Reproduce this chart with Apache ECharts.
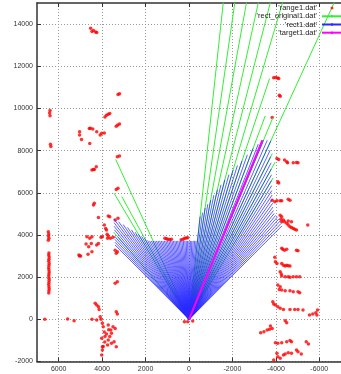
<!DOCTYPE html>
<html>
<head>
<meta charset="utf-8">
<script src="https://cdn.jsdelivr.net/npm/echarts@6/dist/echarts.min.js"></script>
<style>
  html, body { margin: 0; padding: 0; background: #fff; }
  #chart { width: 341px; height: 374px; }
</style>
</head>
<body>
<div id="chart"></div>
<script>
// scan rays: angle in degrees from +y, positive towards +x
const scanAngle = [
  44, 43, 42, 41, 40, 39, 38, 37, 36, 35,
  34, 33, 32, 31, 30, 29, 28, 27, 26, 25,
  24, 23, 22, 21, 20, 19, 18, 17, 16, 15,
  14, 13, 12, 11, 10, 9, 8, 7, 6, 5,
  4, 3, 2, 1, 0, -1, -2, -3, -4, -5,
  -6, -7, -8, -9, -10, -11, -12, -13, -14, -15,
  -16, -17, -18, -19, -20, -21, -22, -23, -24, -25,
  -26, -27, -28, -29, -30, -31, -32, -33, -34, -35,
  -36, -37, -38, -39, -40, -41, -42, -43, -44];
const rectRange = [
  4900, 5000, 5110, 5230, 5080, 5470, 5600, 5740, 5890, 5650,
  5420, 5200, 5000, 4820, 4660, 4500, 4360, 4200, 4140, 4105,
  4070, 4040, 4010, 3985, 3960, 3935, 3910, 3890, 3870, 3850,
  3830, 3820, 3800, 3790, 3780, 3765, 3760, 3750, 3740, 3735,
  3730, 3725, 3720, 3720, 3720, 3720, 3720, 3725, 3730, 3735,
  4900, 5100, 5330, 5530, 5740, 6000, 6280, 6550, 6820, 7100,
  7360, 7630, 7900, 8250, 8620, 8900, 9150, 9220, 9270, 8850,
  8580, 8330, 8070, 7840, 7600, 7400, 7200, 7030, 6870, 6720,
  6580, 6460, 6370, 6340, 6350, 6310, 6280, 6220, 6160];

// original rays that stick out past the clipped ones
const origAngle = [40, 30, 28, 24, -6, -8, -10, -12, -14, -16, -18, -20, -22, -24, -26, -28, -30];
const origRange = [5400, 6900, 6600, 8300, 17000, 17000, 17000, 17000, 17000, 17000, 12000, 10260, 10300, 18000, 8750, 8450, 7750];

const targetPath = [[0, 0], [-3380, 8500]];

const rangePoints = [
  // far left wall
  [6400, 9900], [6420, 9780], [6400, 9650], [6380, 8300], [6360, 8200],
  [6480, 4150], [6460, 4050], [6470, 3950], [6450, 3850], [6480, 3750],
  [6450, 3150], [6460, 3050], [6440, 2950], [6450, 2850], [6460, 2750], [6440, 2650], [6450, 2550],
  [6460, 2450], [6450, 2350], [6440, 2250], [6450, 2150], [6460, 2050], [6450, 1950], [6440, 1850],
  [6450, 1750], [6460, 1650], [6450, 1550], [6440, 1450], [6450, 1350], [6460, 1250],
  [6640, 0], [5590, 20], [5290, -70], [4470, 0], [4250, -30],
  // left side
  [4530, 13800], [4470, 13650], [4400, 13700], [4300, 13620], [4250, 13600],
  [3270, 10660], [3200, 10700],
  [3870, 9600], [3800, 9680], [3720, 9730], [3650, 9760],
  [4590, 9050], [4540, 9060], [4430, 9020],
  [3350, 9160], [3280, 9210], [3200, 9260],
  [5040, 8890], [5040, 8740], [4950, 8530],
  [4250, 8890], [4090, 8740], [4020, 8820], [3900, 8840],
  [4570, 8340],
  [4470, 7080], [4400, 7100], [4360, 7110], [4270, 7230],
  [3300, 7710], [3200, 7740],
  [3350, 6160], [3270, 6210],
  [4400, 5420], [4360, 5500],
  [4170, 4830],
  [3720, 4900], [3650, 4860],
  [3400, 4710], [3270, 4790],
  [3900, 4470], [3840, 4310], [3800, 4230], [3770, 4040], [3750, 3840],
  [4700, 3920], [4570, 3840], [4470, 3920], [4500, 3600], [4620, 3440], [4470, 3200], [4650, 3080],
  [5040, 3000], [4740, 3570], [5070, 3050], [4990, 3000],
  [4250, 3520], [4170, 3600], [4050, 3890], [3990, 3920],
  [3720, 3950], [3620, 3840], [3500, 3890],
  [3400, 3280], [3300, 3200], [3350, 3130],
  [3400, 1710], [3300, 1780],
  [4320, 760], [4250, 680], [4170, 600], [4140, 470],
  [3350, 360], [3300, 250],
  [4090, 120], [4050, 0],
  [3990, -190], [3950, -350], [3720, -270], [3600, -510], [3570, -660], [3650, -820], [3870, -820],
  [4020, -900], [3720, -980], [3570, -1140], [3450, -1060], [3350, -1300], [3990, -1300],
  [3990, -1450], [3750, -1220], [3500, -350], [3400, -430], [4020, -1690], [3950, -1290],
  [3880, -1080], [3800, -700], [3700, -500], [3900, -600],
  // centre wall and near robot
  [1110, 3840], [1040, 3820], [970, 3800], [890, 3790], [810, 3800],
  [360, 3770], [270, 3800], [200, 3840], [130, 3860], [60, 3870],
  [210, -110], [60, -110], [-170, -80],
  // right side
  [-3900, 11450], [-3990, 11470], [-4080, 11440], [-4130, 11420],
  [-4160, 10630], [-4200, 10580],
  [-3830, 9570],
  [-4050, 7630], [-4130, 7580], [-4400, 7550], [-4500, 7470], [-4540, 7420], [-4800, 7420],
  [-4950, 7440], [-5020, 7420],
  [-4090, 6520], [-4130, 6470],
  [-3830, 5650], [-3950, 5570], [-4050, 5620], [-4200, 5620], [-4270, 5620], [-4570, 5690], [-4650, 5650],
  [-4200, 4940], [-4270, 4860], [-4230, 4740], [-4270, 4630], [-4400, 4630], [-4500, 4550],
  [-4570, 4470], [-4650, 4390], [-4720, 4360], [-4800, 4310], [-4870, 4270], [-4950, 4230],
  [-4350, 4710], [-4570, 4660], [-4720, 4630],
  [-5470, 4470],
  [-4270, 3370], [-4320, 3320], [-4400, 3280], [-4500, 3320], [-4950, 3280], [-5020, 3250],
  [-3950, 2940], [-3980, 2730], [-4050, 2650],
  [-4270, 2650], [-4350, 2570], [-4430, 2530], [-4500, 2570], [-4570, 2540], [-4650, 2530],
  [-4200, 2260], [-4250, 2150], [-4270, 2050], [-4430, 2020], [-4570, 2020], [-4650, 1990],
  [-4800, 2020], [-4950, 2020], [-5100, 2020],
  [-4090, 1630], [-4200, 1550], [-4160, 1420], [-4270, 1390],
  [-4430, 1360], [-4650, 1360], [-4800, 1310], [-5020, 1310], [-5100, 1260],
  [-3860, 830], [-3900, 730], [-3980, 680],
  [-4090, 600], [-4200, 520], [-4350, 470],
  [-4650, 470], [-4870, 470], [-5020, 470], [-5250, 440],
  [-5550, 200], [-5700, 250], [-5840, 310], [-5920, 440], [-5890, 200],
  [-4430, -70], [-4500, -160],
  [-3750, -320], [-3830, -430], [-3710, -470], [-3600, -510], [-3450, -590], [-3300, -640],
  [-3980, -1110], [-4090, -1140], [-4270, -1110], [-4500, -1060], [-4650, -1010], [-4720, -1060],
  [-5400, -1060], [-5500, -1170],
  [-4050, -1610], [-4090, -1770], [-4200, -1850], [-4350, -1690], [-4430, -1650], [-4570, -1580],
  [-4720, -1610], [-4950, -1460], [-5020, -1540], [-5170, -1650],
  [-3900, -1930]
];

const xTicks = [-6000, -4000, -2000, 0, 2000, 4000, 6000];
const yTicks = [-2000, 0, 2000, 4000, 6000, 8000, 10000, 12000, 14000];

// each ray starts at the sensor, gaps keep the rays apart
function rays(angles, ranges) {
  const out = [];
  angles.forEach((a, i) => {
    const t = a * Math.PI / 180;
    out.push([0, 0], [ranges[i] * Math.sin(t), ranges[i] * Math.cos(t)], ['-', '-']);
  });
  return out;
}

const chart = echarts.init(document.getElementById('chart'), null, { renderer: 'canvas' });

const labelFont = { fontFamily: 'Liberation Sans', fontSize: 7, color: '#333' };
const gridLine = { show: true, lineStyle: { color: '#999', type: [1, 2], width: 1 } };

chart.setOption({
  animation: false,
  backgroundColor: '#fff',
  grid: { left: 37, right: -8, top: 3, bottom: 12.5 },
  legend: {
    orient: 'vertical',
    align: 'right',
    right: -2,
    top: 4,
    padding: 0,
    itemGap: 0,
    itemWidth: 20,
    itemHeight: 3,
    selectedMode: false,
    textStyle: { fontFamily: 'Liberation Sans', fontSize: 7.5, lineHeight: 8.2, color: '#222' },
    data: ["'range1.dat'", "'rect_original1.dat'", "'rect1.dat'", "'target1.dat'"]
  },
  xAxis: [
    {
      type: 'value', min: -7000, max: 7000, inverse: true, position: 'bottom',
      axisLine: { show: true, onZero: false, lineStyle: { color: '#333', width: 1.5 } },
      axisTick: { show: true, inside: true, length: 4, customValues: xTicks, lineStyle: { color: '#333' } },
      axisLabel: Object.assign({ customValues: xTicks, margin: 4, formatter: v => String(v) }, labelFont),
      splitLine: gridLine
    },
    {
      type: 'value', min: -7000, max: 7000, inverse: true, position: 'top',
      axisLine: { show: true, onZero: false, lineStyle: { color: '#333', width: 1.5 } },
      axisTick: { show: true, inside: true, length: 4, customValues: xTicks, lineStyle: { color: '#333' } },
      axisLabel: { show: false },
      splitLine: { show: false }
    }
  ],
  yAxis: {
    type: 'value', min: -2000, max: 15000,
    axisLine: { show: true, onZero: false, lineStyle: { color: '#333', width: 1.5 } },
    axisTick: { show: true, inside: true, length: 4, customValues: yTicks, lineStyle: { color: '#333' } },
    axisLabel: Object.assign({ customValues: yTicks, margin: 4, formatter: v => String(v) }, labelFont),
    splitLine: gridLine
  },
  series: [
    {
      name: "'range1.dat'",
      type: 'scatter',
      z: 2,
      symbol: 'circle',
      symbolSize: 3.5,
      silent: true,
      itemStyle: { color: '#ff0000' },
      data: rangePoints
    },
    {
      name: "'rect_original1.dat'",
      type: 'line',
      z: 3,
      symbol: 'none',
      silent: true,
      connectNulls: false,
      lineStyle: { color: '#33ee33', width: 1 },
      itemStyle: { color: '#33ee33' },
      data: rays(origAngle, origRange)
    },
    {
      name: "'rect1.dat'",
      type: 'line',
      z: 4,
      symbol: 'none',
      silent: true,
      connectNulls: false,
      lineStyle: { color: '#2a2aff', width: 0.75 },
      itemStyle: { color: '#2a2aff' },
      data: rays(scanAngle, rectRange)
    },
    {
      name: "'target1.dat'",
      type: 'line',
      z: 5,
      symbol: 'none',
      silent: true,
      lineStyle: { color: '#ff00ff', width: 2 },
      itemStyle: { color: '#ff00ff' },
      data: targetPath
    }
  ]
});
</script>
</body>
</html>
